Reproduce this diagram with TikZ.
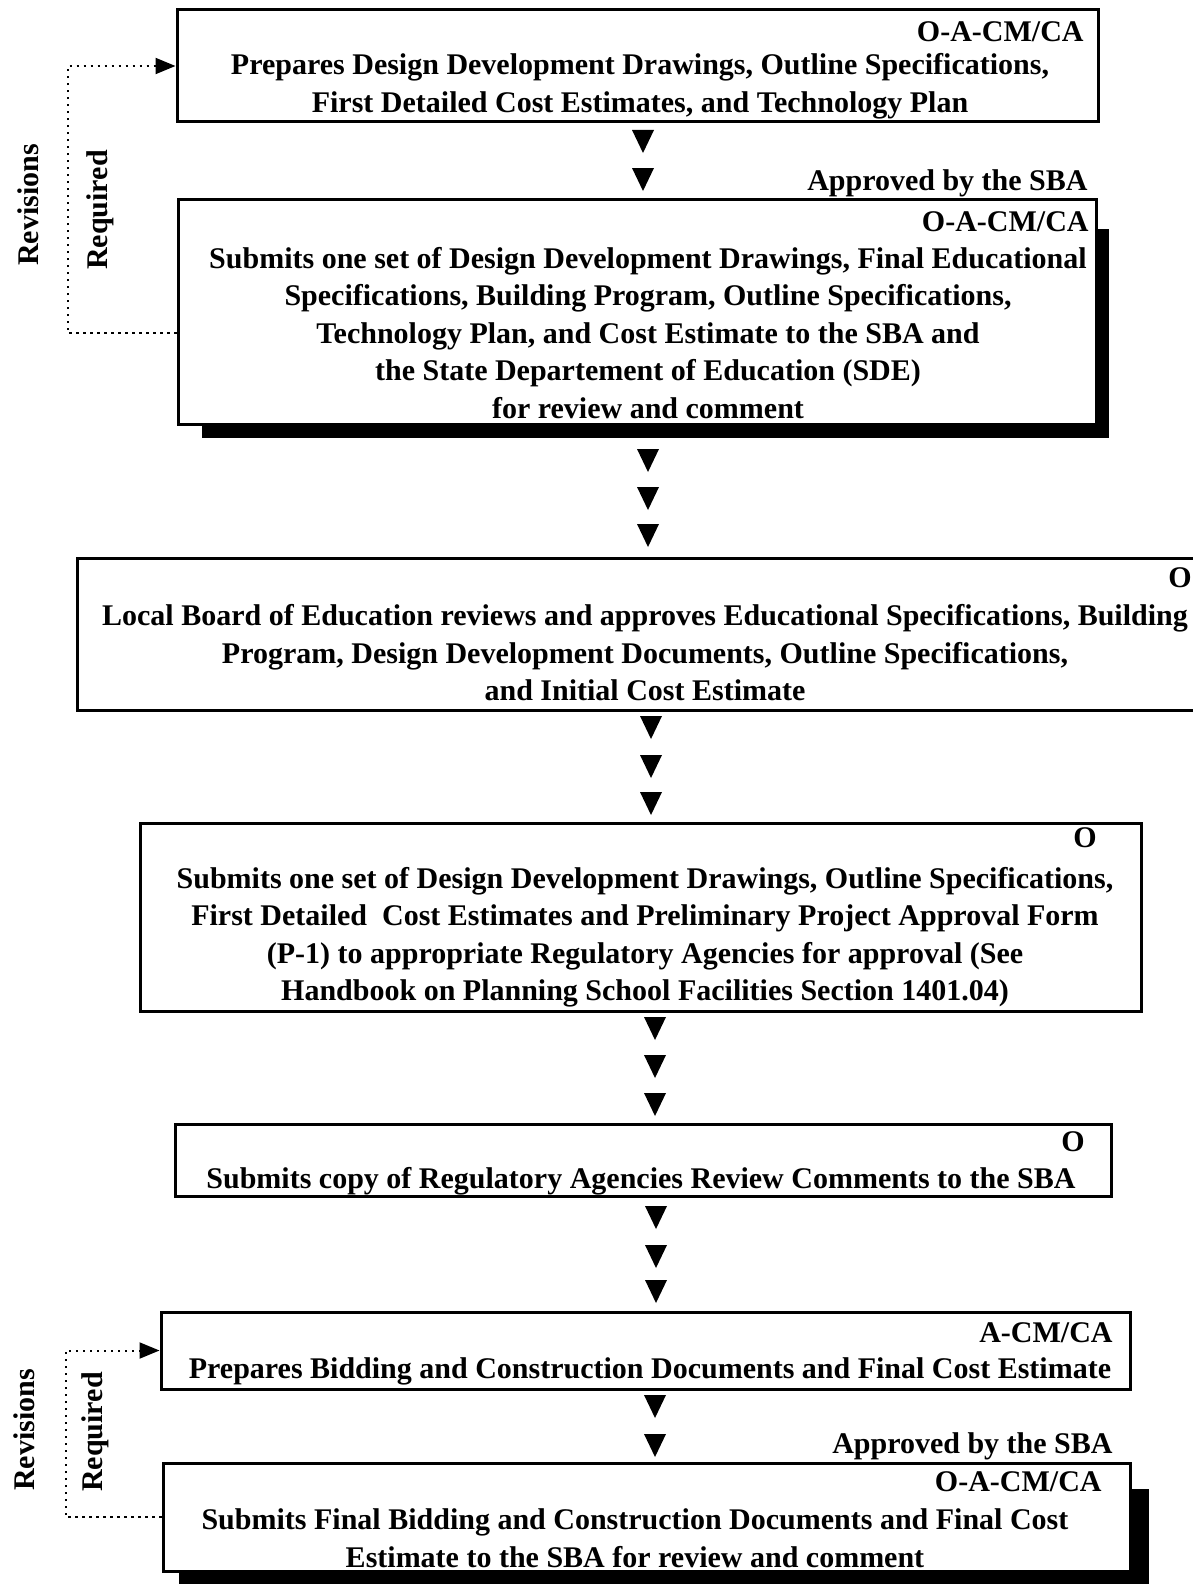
\documentclass[tikz,border=0pt]{standalone}
\usepackage{fontspec}
\setmainfont{Liberation Serif}
\usetikzlibrary{arrows.meta,positioning,calc,fit}

\begin{document}
\begin{tikzpicture}[x=0.5pt,y=-0.5pt,
  font=\fontsize{15}{18.75}\selectfont\bfseries,
  stepbox/.style={draw,line width=1.5pt,inner sep=0pt},
  role/.style={anchor=east,inner sep=0pt},
  body/.style={align=center,inner sep=0pt},
  sidelab/.style={rotate=90,inner sep=0pt},
  revline/.style={line width=1pt,dash pattern=on 1.2pt off 2.3pt,
    -{Triangle[length=10pt,width=8pt]}},
  downtip/.pic={\fill (-11,-11) -- (11,-11) -- (0,12) -- cycle;}]
\useasboundingbox (0,0) rectangle (1193,1584);

% design development
\node[stepbox,fit={(177,10) (1098,122)}] (s1) {};
\node[role] (r1) at (1084,32) {O-A-CM/CA};
\node[body] (t1) at (640,86) {Prepares Design Development Drawings, Outline Specifications,\\
  First Detailed Cost Estimates, and Technology Plan};
\foreach \y in {141,179} \pic at (643,\y) {downtip};
\node[role] (ok1) at (1088,183) {Approved by the SBA};

\node[stepbox,fit={(178,199) (1096,424)}] (s2) {};
\fill ($(s2.north east)+(0,31)$) rectangle ($(s2.south east)+(11,12)$);
\fill ($(s2.south west)+(25,0)$) rectangle ($(s2.south east)+(11,12)$);
\node[role] (r2) at (1089,222) {O-A-CM/CA};
\node[body] (t2) at (648,333) {Submits one set of Design Development Drawings, Final Educational\\
  Specifications, Building Program, Outline Specifications,\\
  Technology Plan, and Cost Estimate to the SBA and\\
  the State Departement of Education (SDE)\\
  for review and comment};
\foreach \y in {460,498,535} \pic at (648,\y) {downtip};

% local board
\node[stepbox,fit={(77,558) (1215,710)}] (s3) {};
\node[role] (r3) at (1192,578) {O};
\node[body] (t3) at (645,653) {Local Board of Education reviews and approves Educational Specifications, Building\\
  Program, Design Development Documents, Outline Specifications,\\
  and Initial Cost Estimate};
\foreach \y in {727,766,803} \pic at (651,\y) {downtip};

% regulatory agencies
\node[stepbox,fit={(140,823) (1141,1011)}] (s4) {};
\node[role] (r4) at (1097,838) {O};
\node[body] (t4) at (645,937) {Submits one set of Design Development Drawings, Outline Specifications,\\
  First Detailed~~Cost Estimates and Preliminary Project Approval Form\\
  (P-1) to appropriate Regulatory Agencies for approval (See\\
  Handbook on Planning School Facilities Section 1401.04)};
\foreach \y in {1028,1066,1104} \pic at (655,\y) {downtip};

\node[stepbox,fit={(175,1124) (1111,1196)}] (s5) {};
\node[role] (r5) at (1085,1142) {O};
\node[body] (t5) at (641,1181) {Submits copy of Regulatory Agencies Review Comments to the SBA};
\foreach \y in {1217,1256,1291} \pic at (656,\y) {downtip};

% bidding documents
\node[stepbox,fit={(161,1312) (1130,1389)}] (s6) {};
\node[role] (r6) at (1113,1333) {A-CM/CA};
\node[body] (t6) at (650,1371) {Prepares Bidding and Construction Documents and Final Cost Estimate};
\foreach \y in {1406,1445} \pic at (655,\y) {downtip};
\node[role] (ok2) at (1113,1446) {Approved by the SBA};

\node[stepbox,fit={(163,1463) (1130,1571)}] (s7) {};
\fill ($(s7.north east)+(0,27)$) rectangle ($(s7.south east)+(17,15)$);
\fill ($(s7.south west)+(17,0)$) rectangle ($(s7.south east)+(17,15)$);
\node[role] (r7) at (1102,1482) {O-A-CM/CA};
\node[body] (t7) at (635,1538) {Submits Final Bidding and Construction Documents and Final Cost\\
  Estimate to the SBA for review and comment};

% revision loops
\draw[revline] ($(s2.west)+(0,21.5)$) -- ++(-109,0) |- (s1.west);
\node[sidelab] (rv1) at (28,205) {Revisions};
\node[sidelab] (rq1) at (100,210) {Required};
\draw[revline] (s7.west) -- ++(-96,0) |- (s6.west);
\node[sidelab] (rv2) at (24,1430) {Revisions};
\node[sidelab] (rq2) at (95,1432) {Required};
\end{tikzpicture}
\end{document}
